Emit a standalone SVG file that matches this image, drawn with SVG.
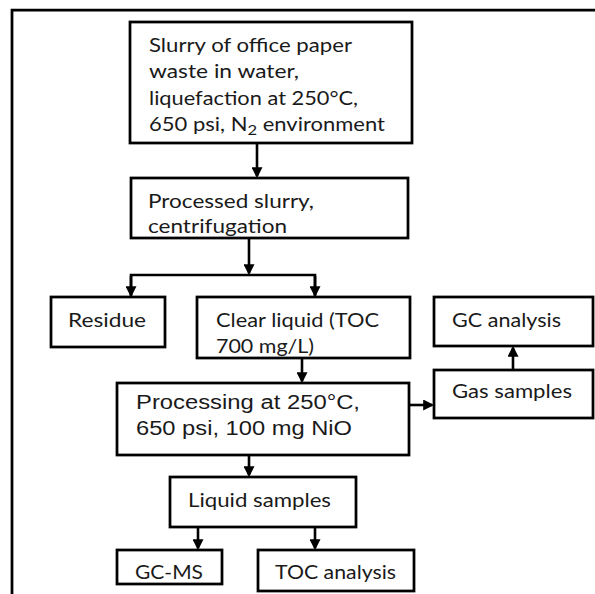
<svg xmlns="http://www.w3.org/2000/svg" width="595" height="594" viewBox="0 0 595 594">
<defs>
<style>
.box{fill:#fff;stroke:#000;stroke-width:2.75}
.t{font-family:Lato,"Open Sans",sans-serif;font-size:18.5px;fill:#1a1a1a}
.a{font-family:"Liberation Sans",Arial,sans-serif;font-size:20px;fill:#1a1a1a}
.c{fill:none;stroke:#000;stroke-width:2.6}
</style>
<marker id="ah" viewBox="0 0 10 10" refX="8" refY="5" markerWidth="11" markerHeight="11" markerUnits="userSpaceOnUse" orient="auto">
<path d="M0,0 L10,5 L0,10 z" fill="#000"/>
</marker>
</defs>
<rect width="595" height="594" fill="#fff"/>
<path d="M12,600 V10 H600" fill="none" stroke="#000" stroke-width="2.75"/>

<g id="connectors">
<path class="c" d="M257,143 V176" marker-end="url(#ah)"/>
<path class="c" d="M249,238 V273" marker-end="url(#ah)"/>
<path class="c" d="M131,296 V275 H315 V296" />
<path class="c" d="M131,276 V295" marker-end="url(#ah)"/>
<path class="c" d="M315,276 V295" marker-end="url(#ah)"/>
<path class="c" d="M302,358 V381" marker-end="url(#ah)"/>
<path class="c" d="M409,405 H432" marker-end="url(#ah)"/>
<path class="c" d="M513,370 V348" marker-end="url(#ah)"/>
<path class="c" d="M249,455 V475" marker-end="url(#ah)"/>
<path class="c" d="M198,527 V548" marker-end="url(#ah)"/>
<path class="c" d="M315,527 V548" marker-end="url(#ah)"/>
</g>

<g id="slurry">
<rect class="box" x="130" y="22" width="282" height="121"/>
<text class="t" x="149" y="52" textLength="203" lengthAdjust="spacingAndGlyphs">Slurry of office paper</text>
<text class="t" x="149" y="78" textLength="150" lengthAdjust="spacingAndGlyphs">waste in water,</text>
<text class="t" x="149" y="105" textLength="209" lengthAdjust="spacingAndGlyphs">liquefaction at 250°C,</text>
<text class="t" x="149" y="131" textLength="236" lengthAdjust="spacingAndGlyphs">650 psi, N<tspan dy="4" font-size="14">2</tspan><tspan dy="-4"> environment</tspan></text>
</g>

<g id="processed">
<rect class="box" x="131" y="178" width="277" height="60"/>
<text class="t" x="148" y="208" textLength="166" lengthAdjust="spacingAndGlyphs">Processed slurry,</text>
<text class="t" x="148" y="233" textLength="139" lengthAdjust="spacingAndGlyphs">centrifugation</text>
</g>

<g id="residue">
<rect class="box" x="51" y="297" width="114" height="50"/>
<text class="t" x="68" y="327" textLength="78" lengthAdjust="spacingAndGlyphs">Residue</text>
</g>

<g id="clear">
<rect class="box" x="197" y="297" width="213" height="61"/>
<text class="t" x="216" y="327" textLength="163" lengthAdjust="spacingAndGlyphs">Clear liquid (TOC</text>
<text class="t" x="216" y="353" textLength="98" lengthAdjust="spacingAndGlyphs">700 mg/L)</text>
</g>

<g id="gc">
<rect class="box" x="434" y="297" width="159" height="49"/>
<text class="t" x="452" y="327" textLength="109" lengthAdjust="spacingAndGlyphs">GC analysis</text>
</g>

<g id="gas">
<rect class="box" x="434" y="370" width="159" height="48"/>
<text class="t" x="452" y="398" textLength="120" lengthAdjust="spacingAndGlyphs">Gas samples</text>
</g>

<g id="processing">
<rect class="box" x="117" y="383" width="292" height="72"/>
<text class="a" x="136" y="409" textLength="224" lengthAdjust="spacingAndGlyphs">Processing at 250°C,</text>
<text class="a" x="136" y="435" textLength="216" lengthAdjust="spacingAndGlyphs">650 psi, 100 mg NiO</text>
</g>

<g id="liquid">
<rect class="box" x="170" y="477" width="186" height="50"/>
<text class="t" x="188" y="507" textLength="143" lengthAdjust="spacingAndGlyphs">Liquid samples</text>
</g>

<g id="gcms">
<rect class="box" x="117" y="550" width="105" height="34"/>
<text class="t" x="135" y="579" textLength="68" lengthAdjust="spacingAndGlyphs">GC-MS</text>
</g>

<g id="toc">
<rect class="box" x="258" y="550" width="156" height="41"/>
<text class="t" x="275" y="579" textLength="121" lengthAdjust="spacingAndGlyphs">TOC analysis</text>
</g>
</svg>
